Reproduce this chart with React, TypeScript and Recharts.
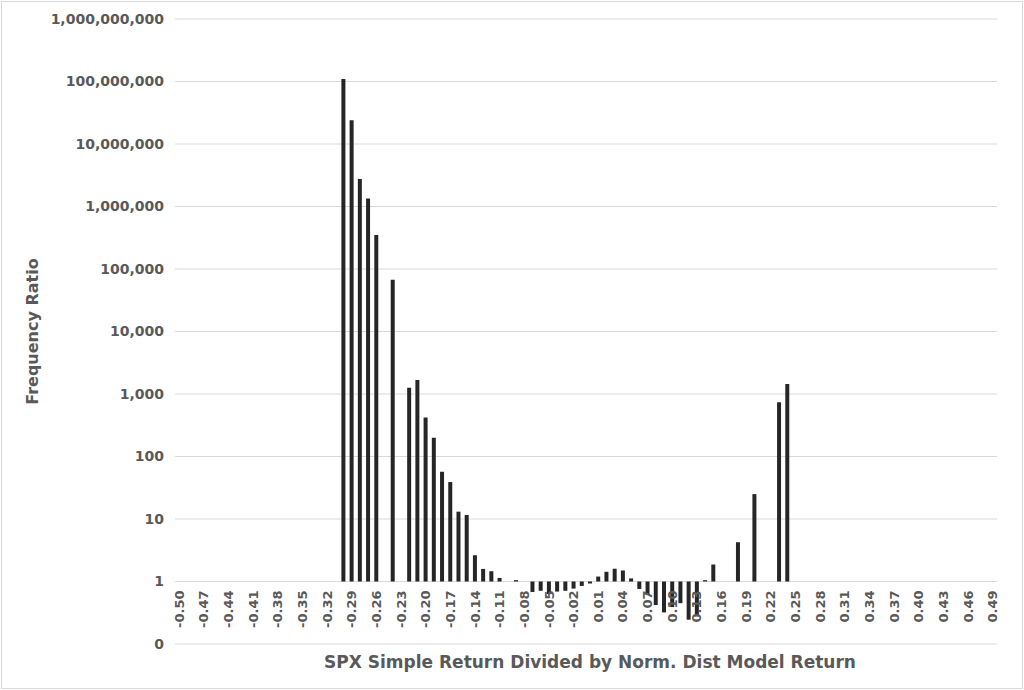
import { BarChart, Bar, XAxis, YAxis, CartesianGrid, Label } from 'recharts';

// return bins, one per bar slot
const returnBins = [
  '-0.50', '-0.49', '-0.48', '-0.47', '-0.46', '-0.45', '-0.44', '-0.43', '-0.42', '-0.41',
  '-0.40', '-0.39', '-0.38', '-0.37', '-0.36', '-0.35', '-0.34', '-0.33', '-0.32', '-0.31',
  '-0.30', '-0.29', '-0.28', '-0.27', '-0.26', '-0.25', '-0.24', '-0.23', '-0.22', '-0.21',
  '-0.20', '-0.19', '-0.18', '-0.17', '-0.16', '-0.15', '-0.14', '-0.13', '-0.12', '-0.11',
  '-0.10', '-0.09', '-0.08', '-0.07', '-0.06', '-0.05', '-0.04', '-0.03', '-0.02', '-0.01',
  '0.00', '0.01', '0.02', '0.03', '0.04', '0.05', '0.06', '0.07', '0.08', '0.09',
  '0.10', '0.11', '0.12', '0.13', '0.14', '0.15', '0.16', '0.17', '0.18', '0.19',
  '0.20', '0.21', '0.22', '0.23', '0.24', '0.25', '0.26', '0.27', '0.28', '0.29',
  '0.30', '0.31', '0.32', '0.33', '0.34', '0.35', '0.36', '0.37', '0.38', '0.39',
  '0.40', '0.41', '0.42', '0.43', '0.44', '0.45', '0.46', '0.47', '0.48', '0.49',
];

// null = empty bin
const frequencyRatio = [
  null, null, null, null, null, null, null, null, null, null,
  null, null, null, null, null, null, null, null, null, null,
  1.1e8, 2.4e7, 2.75e6, 1.34e6, 3.5e5, null, 6.7e4, null, 1260, 1670,
  420, 200, 57, 39, 13.1, 11.6, 2.63, 1.59, 1.46, 1.14,
  null, 1.05, null, 0.68, 0.71, 0.63, 0.69, 0.71, 0.77, 0.85,
  0.93, 1.2, 1.43, 1.6, 1.5, 1.12, 0.76, 0.61, 0.42, 0.32,
  0.39, 0.45, 0.245, 0.28, 1.05, 1.87, null, null, 4.25, null,
  25, null, null, 740, 1450, null, null, null, null, null,
  null, null, null, null, null, null, null, null, null, null,
  null, null, null, null, null, null, null, null, null, null,
];

const yTicks = [0.1, 1, 10, 100, 1000, 10000, 100000, 1000000, 10000000, 100000000, 1000000000];

const data = returnBins.map((bin, i) => ({ bin, ratio: frequencyRatio[i] }));

const W = 1024;
const H = 690;
const MARGIN = { top: 19, right: 27, bottom: 0, left: 0 };
const Y_AXIS_W = 175;
const X_AXIS_H = 46;
// one decade on the log axis; the category labels hang from the "1" line
const DECADE = (H - MARGIN.top - MARGIN.bottom - X_AXIS_H) / (yTicks.length - 1);

const FONT = '"DejaVu Sans", Verdana, sans-serif';
const TEXT = '#595959';

const fmtY = (v: number) => (v < 1 ? '0' : v.toLocaleString('en-US'));

const XTick = ({ x, y, payload }: any) => {
  const ty = y - DECADE + 9;
  return (
    <text
      x={x}
      y={ty}
      transform={`rotate(-90, ${x}, ${ty})`}
      textAnchor="end"
      dominantBaseline="central"
      fill={TEXT}
      fontSize={13}
      fontWeight={700}
      fontFamily={FONT}
    >
      {payload.value}
    </text>
  );
};

export default function App() {
  return (
    <div style={{ position: 'absolute', left: 0, top: 0, width: W, height: H, background: '#fff' }}>
      <div
        style={{
          position: 'absolute',
          left: 1,
          top: 1,
          width: W - 4,
          height: H - 4,
          border: '1px solid #d9d9d9',
        }}
      />
      <BarChart width={W} height={H} data={data} margin={MARGIN} barSize={4} style={{ position: 'absolute', left: 0, top: 0 }}>
        <CartesianGrid vertical={false} stroke="#d9d9d9" />
        <XAxis
          dataKey="bin"
          interval={2}
          height={X_AXIS_H}
          axisLine={false}
          tickLine={false}
          tickSize={0}
          tickMargin={0}
          tick={<XTick />}
        >
          <Label
            content={({ viewBox }: any) => (
              <text
                x={viewBox.x + viewBox.width / 2 + 4}
                y={viewBox.y + 24}
                textAnchor="middle"
                fill={TEXT}
                fontSize={17}
                fontWeight={700}
                fontFamily={FONT}
              >
                SPX Simple Return Divided by Norm. Dist Model Return
              </text>
            )}
          />
        </XAxis>
        <YAxis
          type="number"
          scale="log"
          domain={[0.1, 1000000000]}
          allowDataOverflow
          ticks={yTicks}
          tickFormatter={fmtY}
          width={Y_AXIS_W}
          axisLine={false}
          tickLine={false}
          tickSize={0}
          tickMargin={11}
          tick={{ fill: TEXT, fontSize: 14, fontWeight: 700, fontFamily: FONT }}
        >
          <Label
            content={({ viewBox }: any) => {
              const cx = viewBox.x + 38;
              const cy = viewBox.y + viewBox.height / 2;
              return (
                <text
                  x={cx}
                  y={cy}
                  transform={`rotate(-90, ${cx}, ${cy})`}
                  textAnchor="middle"
                  fill={TEXT}
                  fontSize={16}
                  fontWeight={700}
                  fontFamily={FONT}
                >
                  Frequency Ratio
                </text>
              );
            }}
          />
        </YAxis>
        <Bar
          dataKey={(d: any) => [1, d.ratio ?? 1]}
          fill="#262626"
          isAnimationActive={false}
        />
      </BarChart>
    </div>
  );
}
